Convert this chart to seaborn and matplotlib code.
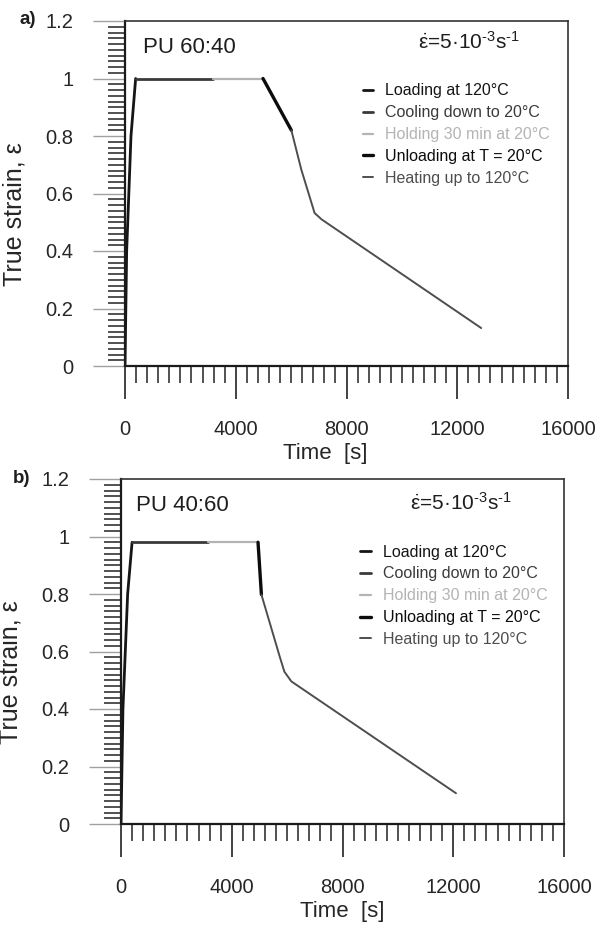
import pandas as pd
import seaborn as sns
import matplotlib.pyplot as plt
from matplotlib.ticker import MultipleLocator

# stages of the test (legend order) and their look
stages = ['Loading at 120°C', 'Cooling down to 20°C', 'Holding 30 min at 20°C',
          'Unloading at T = 20°C', 'Heating up to 120°C']
stage_colors = ['#151515', '#3a3a3a', '#b4b4b4', '#0c0c0c', '#4e4e4e']
stage_widths = [2.0, 2.0, 1.6, 2.4, 1.4]

# a) PU 60:40, time [s] / true strain
a_load_t = [0, 60, 216, 385]
a_load_e = [0, 0.4, 0.8, 1.0]
a_cool_t = [385, 3170]
a_cool_e = [1.0, 1.0]
a_hold_t = [3170, 4984]
a_hold_e = [1.0, 1.0]
a_unload_t = [4984, 6008]
a_unload_e = [1.0, 0.82]
a_heat_t = [6008, 6368, 6848, 7100, 12865]
a_heat_e = [0.82, 0.683, 0.532, 0.51, 0.132]

# b) PU 40:60
b_load_t = [0, 70, 240, 400]
b_load_e = [0, 0.4, 0.8, 0.98]
b_cool_t = [400, 3147]
b_cool_e = [0.98, 0.98]
b_hold_t = [3147, 4949]
b_hold_e = [0.98, 0.98]
b_unload_t = [4949, 5071]
b_unload_e = [0.98, 0.798]
b_heat_t = [5071, 5730, 5900, 6152, 12099]
b_heat_e = [0.798, 0.583, 0.53, 0.496, 0.107]

x_ticks = [0, 4000, 8000, 12000, 16000]
y_ticks = [0, 0.2, 0.4, 0.6, 0.8, 1, 1.2]
y_tick_labels = ['0', '0.2', '0.4', '0.6', '0.8', '1', '1.2']

panels = [
    {'tag': 'a)', 'title': 'PU 60:40',
     'segs': [(a_load_t, a_load_e), (a_cool_t, a_cool_e), (a_hold_t, a_hold_e),
              (a_unload_t, a_unload_e), (a_heat_t, a_heat_e)]},
    {'tag': 'b)', 'title': 'PU 40:60',
     'segs': [(b_load_t, b_load_e), (b_cool_t, b_cool_e), (b_hold_t, b_hold_e),
              (b_unload_t, b_unload_e), (b_heat_t, b_heat_e)]},
]

sns.set_style('ticks')
plt.rcParams['font.family'] = ['Liberation Sans', 'DejaVu Sans']
plt.rcParams['mathtext.fontset'] = 'custom'
plt.rcParams['mathtext.rm'] = 'Liberation Sans'
plt.rcParams['mathtext.it'] = 'Liberation Sans'
plt.rcParams['text.color'] = '#1e1e1e'

fig = plt.figure(figsize=(5.97, 9.26), dpi=100)
# axes boxes measured in pixels: left, top, right, bottom
boxes = [(125, 21, 568, 366), (121, 479, 564, 824)]
tag_pos = [(20, 20), (13, 478)]
title_pos = [(0.041, 0.922), (0.034, 0.922)]
rate_pos = [(0.661, 0.939), (0.652, 0.930)]
legend_pos = [(0.537, 0.819), (0.540, 0.810)]
xlabel_pos = [(0.451, -0.222), (0.500, -0.222)]
rate_text = '$\\dot{ε}$=5·10$^{\u20103}$s$^{\u20101}$'

for i, p in enumerate(panels):
    l, t, r, b = boxes[i]
    ax = fig.add_axes([l / 597, 1 - b / 926, (r - l) / 597, (b - t) / 926])

    for stage, col, lw, (tt, ee) in zip(stages, stage_colors, stage_widths, p['segs']):
        df = pd.DataFrame({'time': tt, 'strain': ee})
        sns.lineplot(data=df, x='time', y='strain', color=col, lw=lw, sort=False,
                     estimator=None, label=stage, ax=ax)

    ax.set_xlim(0, 16000)
    ax.set_ylim(0, 1.2)
    ax.set_xticks(x_ticks)
    ax.set_xticklabels([str(v) for v in x_ticks])
    ax.set_yticks(y_ticks)
    ax.set_yticklabels(y_tick_labels)
    ax.xaxis.set_minor_locator(MultipleLocator(400))
    ax.yaxis.set_minor_locator(MultipleLocator(0.02))
    ax.tick_params(axis='x', which='major', direction='out', length=24, width=1.2,
                   color='#222222', pad=15, labelsize=14.5)
    ax.tick_params(axis='x', which='minor', direction='out', length=12, width=1.1,
                   color='#222222')
    ax.tick_params(axis='y', which='major', direction='out', length=23, width=1.0,
                   color='#a0a0a0', pad=14, labelsize=14.5)
    ax.tick_params(axis='y', which='minor', direction='out', length=12, width=1.1,
                   color='#222222')
    for side in ['left', 'bottom']:
        ax.spines[side].set_linewidth(1.6)
        ax.spines[side].set_color('#1a1a1a')
    for side in ['top', 'right']:
        ax.spines[side].set_linewidth(1.2)
        ax.spines[side].set_color('#333333')

    ax.set_xlabel('Time  [s]', fontsize=16, labelpad=2)
    ax.xaxis.set_label_coords(*xlabel_pos[i])
    ax.set_ylabel('True strain, ε', fontsize=18)
    ax.yaxis.set_label_coords(-0.222, 0.44)

    ax.text(*title_pos[i], p['title'], transform=ax.transAxes, fontsize=16,
            ha='left', va='center')
    ax.text(*rate_pos[i], rate_text, transform=ax.transAxes, fontsize=15,
            ha='left', va='center')
    fig.text(tag_pos[i][0] / 597, 1 - tag_pos[i][1] / 926, p['tag'], fontsize=13.5,
             fontweight='bold', ha='left', va='center')

    ax.legend(loc='upper left', bbox_to_anchor=legend_pos[i], frameon=False,
              fontsize=11.5, handlelength=0.65, handletextpad=0.75, labelspacing=0.43,
              borderpad=0, borderaxespad=0, labelcolor='linecolor')

fig.savefig('out.png', dpi=100)
